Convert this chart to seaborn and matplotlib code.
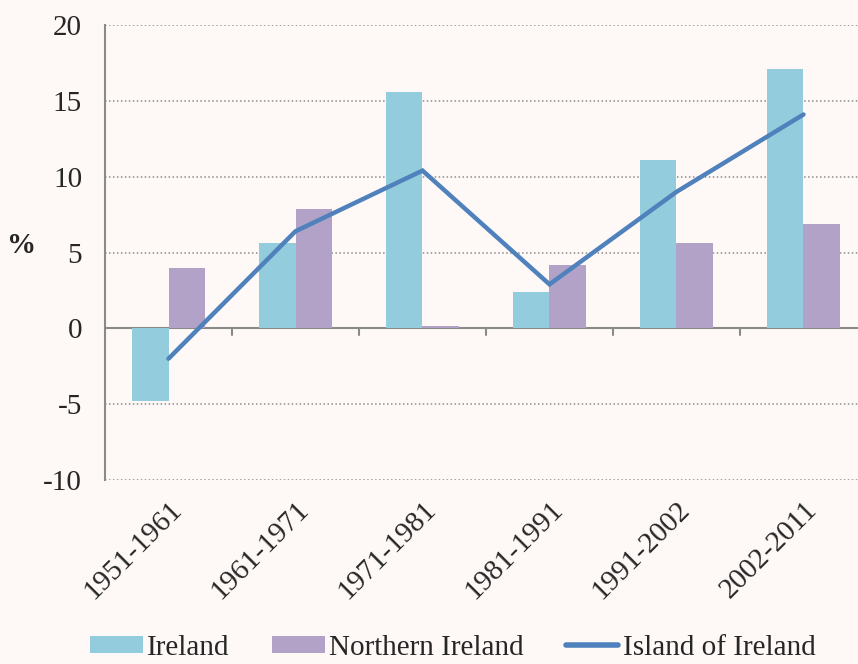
import matplotlib
matplotlib.use('Agg')
import matplotlib.pyplot as plt
import numpy as np
import pandas as pd
import seaborn as sns
from matplotlib.patches import Patch
from matplotlib.lines import Line2D

# values (% change per period)
periods = ['1951-1961', '1961-1971', '1971-1981', '1981-1991', '1991-2002', '2002-2011']
ireland = [-4.8, 5.6, 15.6, 2.4, 11.1, 17.1]
northern_ireland = [4.0, 7.9, 0.15, 4.2, 5.6, 6.9]
island = [-2.0, 6.4, 10.4, 2.9, 9.0, 14.1]

series_names = ['Ireland', 'Northern Ireland']
colors = {'Ireland': '#93CDDD', 'Northern Ireland': '#B2A2C7'}
line_color = '#4F81BD'
bg = '#FEF9F6'

df = pd.DataFrame({
    'period': periods * 2,
    'value': ireland + northern_ireland,
    'region': ['Ireland'] * len(periods) + ['Northern Ireland'] * len(periods),
})

sns.set_style('white')
plt.rcParams['font.family'] = ['Liberation Serif', 'DejaVu Serif']
plt.rcParams['axes.unicode_minus'] = False
fs = 21

fig = plt.figure(figsize=(8.58, 6.64), dpi=100, facecolor=bg)
ax = fig.add_axes([105 / 858, 1 - 480 / 664, 762 / 858, 455 / 664])
ax.set_facecolor(bg)

# dotted grid behind the bars
for v in [20, 15, 10, 5, -5, -10]:
    ax.axhline(v, color='#8c8c8c', lw=1.1, ls=(0, (1, 1.6)), zorder=0)

sns.barplot(data=df, x='period', y='value', hue='region', hue_order=series_names,
            palette=colors, width=0.57, gap=0, saturation=1, legend=False,
            edgecolor='none', ax=ax, zorder=2)

pos = np.arange(len(periods))
ax.plot(pos, island, color=line_color, lw=3.2, zorder=3, solid_joinstyle='miter')

ax.set_xlim(-0.5, len(periods) - 0.5)
ax.set_ylim(-10, 20)
ax.set_yticks([-10, -5, 0, 5, 10, 15, 20])
ax.set_yticklabels(['-10', '-5', '0', '5', '10', '15', '20'])

# axis line at zero with small ticks between categories
ax.axhline(0, color='#8a8a8a', lw=1.5, zorder=1)
for b in pos[:-1] + 0.5:
    ax.plot([b, b], [0, -0.45], color='#8a8a8a', lw=1.5, zorder=1, clip_on=False)

for s in ['top', 'right', 'bottom']:
    ax.spines[s].set_visible(False)
ax.spines['left'].set_color('#8a8a8a')
ax.spines['left'].set_linewidth(1.5)

ax.tick_params(axis='y', length=6.5, width=1.5, color='#8a8a8a', pad=10, labelsize=fs)
ax.tick_params(axis='x', length=0, pad=12, labelsize=fs)
plt.setp(ax.get_xticklabels(), rotation=45, ha='right', rotation_mode='anchor')

ax.set_xlabel('')
ax.set_ylabel('%', rotation=0, fontsize=fs, fontweight='bold', va='center', ha='center')
ax.yaxis.set_label_coords(-0.109, 0.516)

handles = [Patch(facecolor=colors['Ireland'], edgecolor='none'),
           Patch(facecolor=colors['Northern Ireland'], edgecolor='none'),
           Line2D([0], [0], color=line_color, lw=4)]
labels = ['Ireland', 'Northern Ireland', 'Island of Ireland']
fig.legend(handles, labels, loc='center', bbox_to_anchor=(0.528, 1 - 648 / 664),
           ncol=3, frameon=False, fontsize=fs, handlelength=1.8, handleheight=0.55,
           handletextpad=0.15, columnspacing=1.45, borderpad=0.1)

fig.savefig('out.png', dpi=100, facecolor=bg)
